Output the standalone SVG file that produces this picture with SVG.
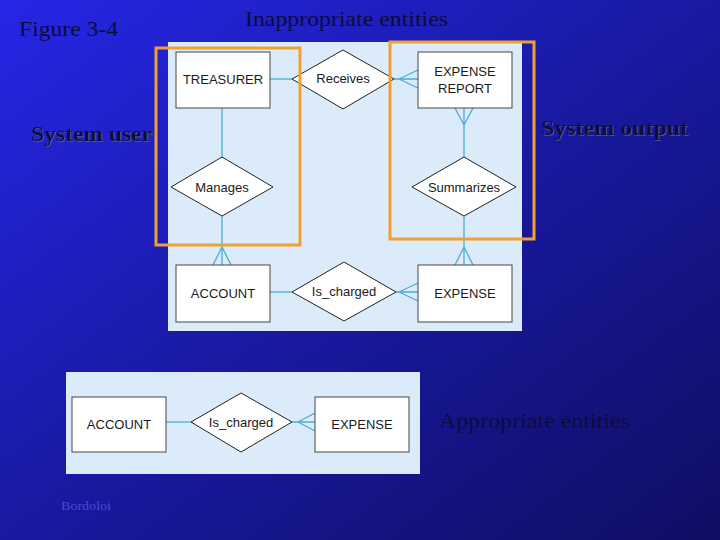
<svg xmlns="http://www.w3.org/2000/svg" width="720" height="540" viewBox="0 0 720 540">
<defs>
<linearGradient id="bg" x1="0" y1="0" x2="1" y2="1">
<stop offset="0" stop-color="#2626e6"/>
<stop offset="0.45" stop-color="#1a1aa8"/>
<stop offset="1" stop-color="#0e0e62"/>
</linearGradient>
<filter id="sh" x="-5%" y="-20%" width="110%" height="140%">
<feDropShadow dx="1" dy="1" stdDeviation="0.6" flood-color="#5a5a9a" flood-opacity="0.8"/>
</filter>
</defs>
<style>
.panel{fill:#dcebf9}
.ent{fill:#ffffff;stroke:#444;stroke-width:1}
.rel{fill:#ffffff;stroke:#222;stroke-width:1}
.lbl{font-family:"Liberation Sans",Arial,sans-serif;font-size:13px;fill:#1a1a1a;text-anchor:middle}
.conn{stroke:#4aaed6;stroke-width:1.3;fill:none}
.frame{fill:none;stroke:#f0a030;stroke-width:3}
.title{font-family:"Liberation Serif","Times New Roman",serif;font-size:22px;fill:#0c0c3c}
.bold{font-family:"Liberation Serif","Times New Roman",serif;font-size:21px;font-weight:bold;fill:#10103a}
</style>
<rect width="720" height="540" fill="url(#bg)"/>

<text class="title" x="19" y="36" textLength="99" lengthAdjust="spacingAndGlyphs">Figure 3-4</text>
<text class="title" x="245" y="26" textLength="203" lengthAdjust="spacingAndGlyphs">Inappropriate entities</text>
<text class="bold" x="31" y="141" filter="url(#sh)" textLength="121" lengthAdjust="spacingAndGlyphs">System user</text>
<text class="bold" x="541" y="135" filter="url(#sh)" textLength="147" lengthAdjust="spacingAndGlyphs">System output</text>
<text class="title" x="439" y="428" textLength="191" lengthAdjust="spacingAndGlyphs">Appropriate entities</text>
<text x="61" y="510" font-family="'Liberation Serif','Times New Roman',serif" font-size="13" fill="#4a4ad6" textLength="50" lengthAdjust="spacingAndGlyphs">Bordoloi</text>

<rect class="panel" x="168" y="42" width="354" height="289"/>
<rect class="panel" x="66" y="372" width="354" height="102"/>

<g id="connectors">
<line class="conn" x1="270" y1="79" x2="292" y2="79"/>
<path class="conn" d="M394 79H418M399 79L418 70M399 79L418 88"/>
<line class="conn" x1="222" y1="108" x2="222" y2="158"/>
<path class="conn" d="M222 216V265M222 247L213 265M222 247L231 265"/>
<path class="conn" d="M464 108V158M464 125L455 108M464 125L473 108"/>
<path class="conn" d="M464 216V265M464 247L455 265M464 247L473 265"/>
<line class="conn" x1="270" y1="292" x2="292" y2="292"/>
<path class="conn" d="M396 292H418M399 292L418 283M399 292L418 301"/>
<line class="conn" x1="166" y1="422" x2="191" y2="422"/>
<path class="conn" d="M292 422H315M298 422L315 413M298 422L315 431"/>
</g>

<g id="treasurer"><rect class="ent" x="176" y="52" width="94" height="56"/><text class="lbl" x="223" y="84">TREASURER</text></g>
<g id="receives"><polygon class="rel" points="343,50 394,79 343,109 292,79"/><text class="lbl" x="343" y="83">Receives</text></g>
<g id="expense-report"><rect class="ent" x="418" y="52" width="94" height="56"/><text class="lbl" x="465" y="76">EXPENSE</text><text class="lbl" x="465" y="93">REPORT</text></g>
<g id="manages"><polygon class="rel" points="222,157 273,187 222,216 171,187"/><text class="lbl" x="222" y="192">Manages</text></g>
<g id="summarizes"><polygon class="rel" points="464,157 516,187 464,216 412,187"/><text class="lbl" x="464" y="192">Summarizes</text></g>
<g id="account"><rect class="ent" x="176" y="265" width="94" height="57"/><text class="lbl" x="223" y="298">ACCOUNT</text></g>
<g id="is-charged"><polygon class="rel" points="344,262 396,292 344,321 292,292"/><text class="lbl" x="344" y="296">Is_charged</text></g>
<g id="expense"><rect class="ent" x="418" y="265" width="94" height="57"/><text class="lbl" x="465" y="298">EXPENSE</text></g>

<g id="account2"><rect class="ent" x="72" y="397" width="94" height="55"/><text class="lbl" x="119" y="429">ACCOUNT</text></g>
<g id="is-charged2"><polygon class="rel" points="241,393 292,422 241,452 191,422"/><text class="lbl" x="241" y="427">Is_charged</text></g>
<g id="expense2"><rect class="ent" x="315" y="397" width="94" height="55"/><text class="lbl" x="362" y="429">EXPENSE</text></g>

<rect class="frame" x="156" y="48" width="144" height="197"/>
<rect class="frame" x="390" y="42" width="144" height="197"/>
</svg>
